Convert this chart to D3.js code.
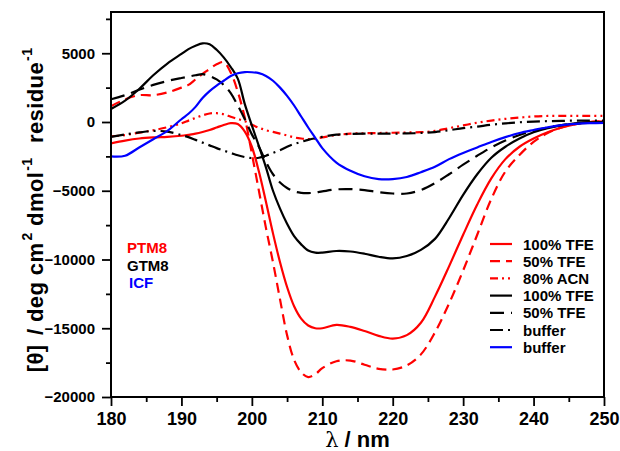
<!DOCTYPE html>
<html>
<head>
<meta charset="utf-8">
<script src="https://cdn.jsdelivr.net/npm/d3@7"></script>
<style>
  body { margin: 0; background: #fff; }
  svg { display: block; font-family: "Liberation Sans", Arial, Helvetica, sans-serif; }
</style>
</head>
<body>
<div class="chart"></div>
<script>
// wavelength grid (nm)
const lambda = [180,182,184,186,188,190,191,192,193,194,195,196,197,198,199,200,201,202,203,204,205,206,207,208,209,210,
  212,214,216,218,220,222,224,226,228,230,232,234,236,238,240,242,244,246,248,250];

// PTM8
const ptm8Tfe100 = [-1550,-1350,-1200,-1120,-1080,-1000,-930,-850,-730,-580,-400,-220,-80,-150,-700,-1800,-3600,-5800,-8100,-10200,-12000,-13400,-14300,-14800,-15000,-15000,
  -14750,-14900,-15200,-15550,-15750,-15500,-14600,-12700,-10500,-8200,-6000,-4100,-2700,-1800,-1200,-750,-400,-150,0,50];
const ptm8Tfe50 = [1150,1650,1950,1950,2150,2500,2700,3100,3500,3850,4200,4350,3600,2200,300,-2300,-5000,-7700,-10200,-12900,-15500,-17300,-18200,-18550,-18350,-17900,
  -17400,-17350,-17650,-17950,-18000,-17700,-16900,-15300,-13200,-10800,-8200,-5600,-3600,-2400,-1450,-800,-400,-150,0,50];
const ptm8Acn80 = [-1050,-950,-780,-600,-380,-100,100,300,480,620,640,560,380,220,50,-200,-420,-600,-720,-850,-980,-1120,-1200,-1240,-1200,-1120,
  -950,-850,-820,-800,-780,-760,-740,-650,-450,-250,-50,100,230,320,400,440,450,450,450,440];

// GTM8
const gtm8Tfe100 = [950,1550,2400,3400,4250,4950,5300,5550,5720,5650,5250,4700,4000,3150,1300,-250,-1750,-3300,-5000,-6300,-7400,-8300,-8900,-9350,-9500,-9500,
  -9380,-9420,-9580,-9800,-9920,-9750,-9300,-8500,-7000,-5300,-3800,-2600,-1800,-1200,-750,-450,-250,-100,-30,0];
const gtm8Tfe50 = [1650,1950,2350,2700,2980,3200,3300,3400,3480,3350,3100,2700,2100,1200,200,-900,-1800,-2900,-3800,-4400,-4800,-5050,-5150,-5170,-5130,-5050,
  -4900,-4880,-4950,-5100,-5200,-5200,-4950,-4450,-3800,-3100,-2450,-1850,-1350,-950,-650,-400,-220,-120,-60,-50];
const gtm8Buffer = [-1080,-900,-760,-650,-700,-950,-1100,-1300,-1500,-1700,-1900,-2080,-2250,-2420,-2550,-2620,-2600,-2450,-2250,-2050,-1800,-1600,-1450,-1300,-1180,-1080,
  -920,-870,-850,-850,-850,-830,-800,-730,-600,-450,-330,-200,-100,-20,30,60,80,100,100,100];

// ICF
const icfBuffer = [-2500,-2450,-1850,-1250,-650,200,600,1100,1750,2250,2650,3000,3350,3550,3630,3620,3550,3350,3000,2500,1900,1200,400,-400,-1150,-1900,
  -2950,-3550,-3950,-4150,-4150,-4000,-3650,-3250,-2700,-2250,-1850,-1450,-1100,-800,-580,-380,-230,-130,-80,-60];

const legendLabels = ['100% TFE','50% TFE','80% ACN','100% TFE','50% TFE','buffer','buffer'];
const groupLabels = ['PTM8','GTM8','ICF'];
const xTicks = [180,190,200,210,220,230,240,250];
const yTicks = [-20000,-15000,-10000,-5000,0,5000];

const series = [
  {values: ptm8Tfe100, color: '#ff0000', dash: null},
  {values: ptm8Tfe50, color: '#ff0000', dash: '10,6'},
  {values: ptm8Acn80, color: '#ff0000', dash: '8,4,2,4,2,4'},
  {values: gtm8Tfe100, color: '#000000', dash: null},
  {values: gtm8Tfe50, color: '#000000', dash: '14,7'},
  {values: gtm8Buffer, color: '#000000', dash: '13,5,2,5'},
  {values: icfBuffer, color: '#0000ff', dash: null}
];
const groupColors = ['#ff0000','#000000','#0000ff'];

const OuterWidth = 620, OuterHeight = 451;
const Margin = {top: 12, right: 16, bottom: 54, left: 111};
const W = OuterWidth - Margin.left - Margin.right;
const H = OuterHeight - Margin.top - Margin.bottom;

const svg = d3.select('.chart').append('svg')
  .attr('width', OuterWidth)
  .attr('height', OuterHeight);

const g = svg.append('g')
  .attr('transform', `translate(${Margin.left},${Margin.top})`);

const x = d3.scaleLinear().domain([180, 250]).range([0, W]);
const y = d3.scaleLinear().domain([-20000, 8000]).range([H, 0]);

// 곡선
const line = d3.line()
  .x((d, i) => x(lambda[i]))
  .y(d => y(d))
  .curve(d3.curveCatmullRom.alpha(0.5));

g.append('defs').append('clipPath').attr('id', 'clip')
  .append('rect').attr('width', W).attr('height', H);

g.append('g').attr('clip-path', 'url(#clip)')
  .selectAll('path')
  .data(series)
  .join('path')
    .attr('d', d => line(d.values))
    .attr('fill', 'none')
    .attr('stroke', d => d.color)
    .attr('stroke-width', 2.2)
    .attr('stroke-dasharray', d => d.dash);

// 축
const xAxisG = g.append('g').attr('transform', `translate(0,${H})`);
xAxisG.call(d3.axisBottom(x).tickValues(xTicks).tickSize(9).tickPadding(6).tickFormat(d3.format('d')));
xAxisG.append('g').call(d3.axisBottom(x).tickValues(d3.range(185, 250, 10)).tickSize(5).tickFormat(''));

const yAxisG = g.append('g');
yAxisG.call(d3.axisLeft(y).tickValues(yTicks).tickSize(9).tickPadding(7).tickFormat(d3.format('d')));
yAxisG.append('g').call(d3.axisLeft(y).tickValues(d3.range(-17500, 8000, 5000)).tickSize(5).tickFormat(''));

g.selectAll('.domain').remove();
g.selectAll('.tick line').attr('stroke', '#000').attr('stroke-width', 1.8);
xAxisG.selectAll('text').style('font-size', '18px').style('font-weight', 'bold').attr('fill', '#000');
yAxisG.selectAll('text').style('font-size', '15px').style('font-weight', 'bold').attr('fill', '#000');

// 테두리
g.append('rect')
  .attr('width', W).attr('height', H)
  .attr('fill', 'none').attr('stroke', '#000').attr('stroke-width', 2);

// 축 제목
const xt = svg.append('text')
  .attr('x', Margin.left + W / 2)
  .attr('y', 447)
  .attr('text-anchor', 'middle')
  .style('font-size', '22px');
xt.append('tspan').style('font-family', '"DejaVu Serif", serif').style('font-size', '21px').text('λ');
xt.append('tspan').style('font-weight', 'bold').text(' / nm');

const yt = svg.append('text')
  .attr('transform', `translate(43,210) rotate(-90)`)
  .attr('text-anchor', 'middle')
  .style('font-size', '22px')
  .style('font-weight', 'bold')
  .style('letter-spacing', '0.4px');
yt.append('tspan').text('[θ]');
yt.append('tspan').attr('dx', 3).text(' / deg cm');
yt.append('tspan').attr('dy', -11).attr('dx', 2).style('font-size', '14px').text('2');
yt.append('tspan').attr('dy', 11).text(' dmol');
yt.append('tspan').attr('dy', -11).attr('dx', 1).style('font-size', '14px').text('-1');
yt.append('tspan').attr('dy', 11).attr('dx', 8).text(' residue');
yt.append('tspan').attr('dy', -11).attr('dx', 1).style('font-size', '14px').text('-1');

// 그룹 라벨
svg.selectAll('text.group')
  .data(groupLabels)
  .join('text')
    .attr('class', 'group')
    .attr('x', (d, i) => i === 2 ? 129 : 127)
    .attr('y', (d, i) => 253 + i * 17.5)
    .attr('fill', (d, i) => groupColors[i])
    .style('font-size', '15px')
    .style('font-weight', 'bold')
    .text(d => d);

// 범례
const legend = svg.append('g');
legendLabels.forEach((label, i) => {
  const cy = 244 + i * 17.2;
  legend.append('line')
    .attr('x1', 490).attr('x2', 512)
    .attr('y1', cy).attr('y2', cy)
    .attr('stroke', series[i].color)
    .attr('stroke-width', 2.2)
    .attr('stroke-dasharray', series[i].dash);
  legend.append('text')
    .attr('x', 523)
    .attr('y', cy + 5.5)
    .style('font-size', '15px')
    .style('font-weight', 'bold')
    .text(label);
});
</script>
</body>
</html>
